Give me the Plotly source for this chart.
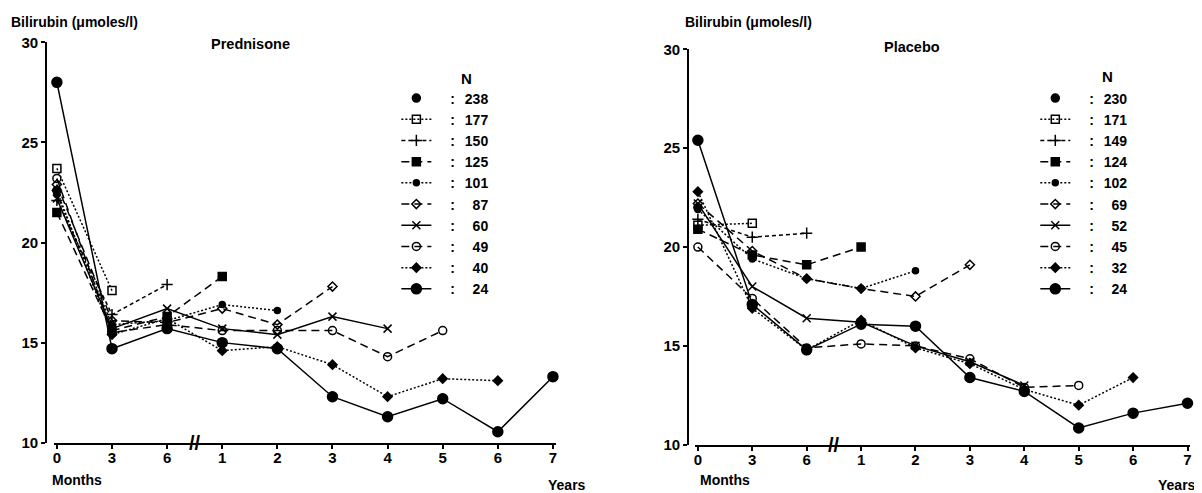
import plotly.graph_objects as go

# ---------------- data ----------------
time_labels = ["0", "3", "6", "1", "2", "3", "4", "5", "6", "7"]

# Prednisone cohorts (N) and mean bilirubin per visit (None = not followed)
pred_n = [238, 177, 150, 125, 101, 87, 60, 49, 40, 24]
pred_238 = [22.6, None, None, None, None, None, None, None, None, None]
pred_177 = [23.7, 17.6, None, None, None, None, None, None, None, None]
pred_150 = [22.1, 16.4, 17.9, None, None, None, None, None, None, None]
pred_125 = [21.5, 15.6, 16.3, 18.3, None, None, None, None, None, None]
pred_101 = [22.4, 15.9, 16.1, 16.9, 16.6, None, None, None, None, None]
pred_87 = [22.9, 16.1, 16.0, 16.7, 15.9, 17.8, None, None, None, None]
pred_60 = [22.2, 15.7, 16.7, 15.7, 15.4, 16.3, 15.7, None, None, None]
pred_49 = [23.2, 15.5, 15.9, 15.6, 15.6, 15.6, 14.3, 15.6, None, None]
pred_40 = [22.6, 15.4, 16.2, 14.6, 14.8, 13.9, 12.3, 13.2, 13.1, None]
pred_24 = [28.0, 14.7, 15.7, 15.0, 14.7, 12.3, 11.3, 12.2, 10.55, 13.3]
pred_series = [pred_238, pred_177, pred_150, pred_125, pred_101,
               pred_87, pred_60, pred_49, pred_40, pred_24]

# Placebo cohorts
plac_n = [230, 171, 149, 124, 102, 69, 52, 45, 32, 24]
plac_230 = [22.0, None, None, None, None, None, None, None, None, None]
plac_171 = [21.1, 21.2, None, None, None, None, None, None, None, None]
plac_149 = [21.4, 20.5, 20.7, None, None, None, None, None, None, None]
plac_124 = [20.9, 19.6, 19.1, 20.0, None, None, None, None, None, None]
plac_102 = [21.9, 19.4, 18.4, 17.9, 18.8, None, None, None, None, None]
plac_69 = [22.2, 19.8, 18.4, 17.9, 17.5, 19.1, None, None, None, None]
plac_52 = [22.2, 18.0, 16.4, 16.2, 15.0, 14.2, 13.0, None, None, None]
plac_45 = [20.0, 17.4, 14.9, 15.1, 15.0, 14.35, 12.9, 13.0, None, None]
plac_32 = [22.8, 16.9, 14.8, 16.3, 14.9, 14.1, 12.8, 12.0, 13.4, None]
plac_24 = [25.4, 17.1, 14.8, 16.1, 16.0, 13.4, 12.7, 10.85, 11.6, 12.1]
plac_series = [plac_230, plac_171, plac_149, plac_124, plac_102,
               plac_69, plac_52, plac_45, plac_32, plac_24]

y_ticks = [10, 15, 20, 25, 30]

# ---------------- styles ----------------
styles = [
    dict(mode="markers", symbol="circle", size=8, dash="solid"),
    dict(mode="lines+markers", symbol="square-open", size=8, dash="2px,2px"),
    dict(mode="lines+markers", symbol="cross-thin-open", size=8, dash="4px,3px"),
    dict(mode="lines+markers", symbol="square", size=8, dash="8px,5px"),
    dict(mode="lines+markers", symbol="circle", size=6, dash="2px,2px"),
    dict(mode="lines+markers", symbol="diamond-open", size=7, dash="8px,5px"),
    dict(mode="lines+markers", symbol="x-thin-open", size=8, dash="solid"),
    dict(mode="lines+markers", symbol="circle-open", size=8, dash="8px,5px"),
    dict(mode="lines+markers", symbol="diamond", size=7, dash="2px,2px"),
    dict(mode="lines+markers", symbol="circle", size=10, dash="solid"),
]

W, H = 1202, 493
FONT = "Liberation Sans, Arial, Helvetica, sans-serif"

# page-placement compensation (measured from the rendered page)
X_OFF = 8.0
Y_OFF, Y_SCALE = 16.8, 0.962


def fx(p):
    return (p - X_OFF) / W


def fy(p):
    d = (p - Y_OFF) / Y_SCALE
    return 1 - d / H


def label(n):
    s = str(n)
    pad = "\u2007" * (3 - len(s))
    return "\u2003:\u2002\u2009" + pad + s


fig = go.Figure()
xs = list(range(len(time_labels)))

for series, ns, xa, ya, lg in [
        (pred_series, pred_n, "x", "y", "legend"),
        (plac_series, plac_n, "x2", "y2", "legend2")]:
    for vals, n, st in zip(series, ns, styles):
        fig.add_trace(go.Scatter(
            x=xs, y=vals, mode=st["mode"], name=label(n),
            xaxis=xa, yaxis=ya, legend=lg,
            connectgaps=False, cliponaxis=False,
            line=dict(color="black", width=1.5, dash=st["dash"]),
            marker=dict(symbol=st["symbol"], size=st["size"], color="black",
                        line=dict(color="black", width=1.5)),
            hoverinfo="skip",
        ))

tickfont = dict(family=FONT, size=15, color="black", weight="bold")


def xaxis(dom, anchor):
    return dict(domain=dom, range=[-0.05, 9.05], anchor=anchor, tickmode="array",
                tickvals=xs, ticktext=time_labels, showline=True, linecolor="black",
                linewidth=1.5, ticks="outside", ticklen=4, tickwidth=1.5,
                tickcolor="black", ticklabelstandoff=-4,
                showgrid=False, zeroline=False, tickfont=tickfont, fixedrange=True)


def yaxis(dom, pos):
    return dict(domain=dom, range=[10, 30], anchor="free", position=pos,
                tickmode="array", tickvals=y_ticks, showline=True, linecolor="black",
                linewidth=1.5, ticks="outside", ticklen=4, tickwidth=1.5,
                tickcolor="black", showgrid=False, zeroline=False, tickfont=tickfont,
                fixedrange=True)


legend_common = dict(bgcolor="rgba(0,0,0,0)", borderwidth=0, xanchor="left",
                     yanchor="top", traceorder="normal",
                     font=dict(family=FONT, size=14, color="black", weight="bold"))

title_font = dict(family=FONT, size=14.5, color="black", weight="bold")
ylab_font = dict(family=FONT, size=14, color="black", weight="bold")
big_font = dict(family=FONT, size=15, color="black", weight="bold")
unit_font = dict(family=FONT, size=14, color="black", weight="bold")
brk_font = dict(family=FONT, size=20, color="black", weight="bold")

annotations = [
    dict(text="Bilirubin (\u03bcmoles/l)", x=0, y=fy(22), xanchor="left", font=ylab_font),
    dict(text="Bilirubin (\u03bcmoles/l)", x=fx(683), y=fy(22), xanchor="left", font=ylab_font),
    dict(text="Prednisone", x=fx(250), y=fy(44), xanchor="center", font=title_font),
    dict(text="Placebo", x=fx(913), y=fy(47), xanchor="center", font=title_font),
    dict(text="N", x=fx(466), y=fy(78), xanchor="center", font=big_font),
    dict(text="N", x=fx(1108), y=fy(76), xanchor="center", font=big_font),
    dict(text="Months", x=fx(76), y=fy(478), xanchor="center", font=unit_font),
    dict(text="Months", x=fx(725), y=fy(478), xanchor="center", font=unit_font),
    dict(text="Years", x=fx(567), y=fy(483), xanchor="center", font=unit_font),
    dict(text="Years", x=fx(1178), y=fy(483), xanchor="center", font=unit_font),
    dict(text="//", x=2.5, y=10, xref="x", yref="y", font=brk_font),
    dict(text="//", x=2.5, y=10, xref="x2", yref="y2", font=brk_font),
]
for a in annotations:
    a.setdefault("xref", "paper")
    a.setdefault("yref", "paper")
    a.setdefault("showarrow", False)
    a.setdefault("yanchor", "middle")

fig.update_layout(
    width=W, height=H, margin=dict(l=0, r=0, t=0, b=0),
    paper_bgcolor="white", plot_bgcolor="white",
    showlegend=True,
    xaxis=xaxis([fx(53.2), fx(555.6)], "y"),
    yaxis=yaxis([fy(441), fy(42)], fx(45)),
    xaxis2=xaxis([fx(695.3), fx(1191.2)], "y2"),
    yaxis2=yaxis([fy(443), fy(49)], fx(688)),
    legend=dict(x=fx(396), y=fy(82), **legend_common),
    legend2=dict(x=fx(1036), y=fy(82), **legend_common),
    annotations=annotations,
    font=dict(family=FONT, color="black"),
)

fig.write_html("out.html")
